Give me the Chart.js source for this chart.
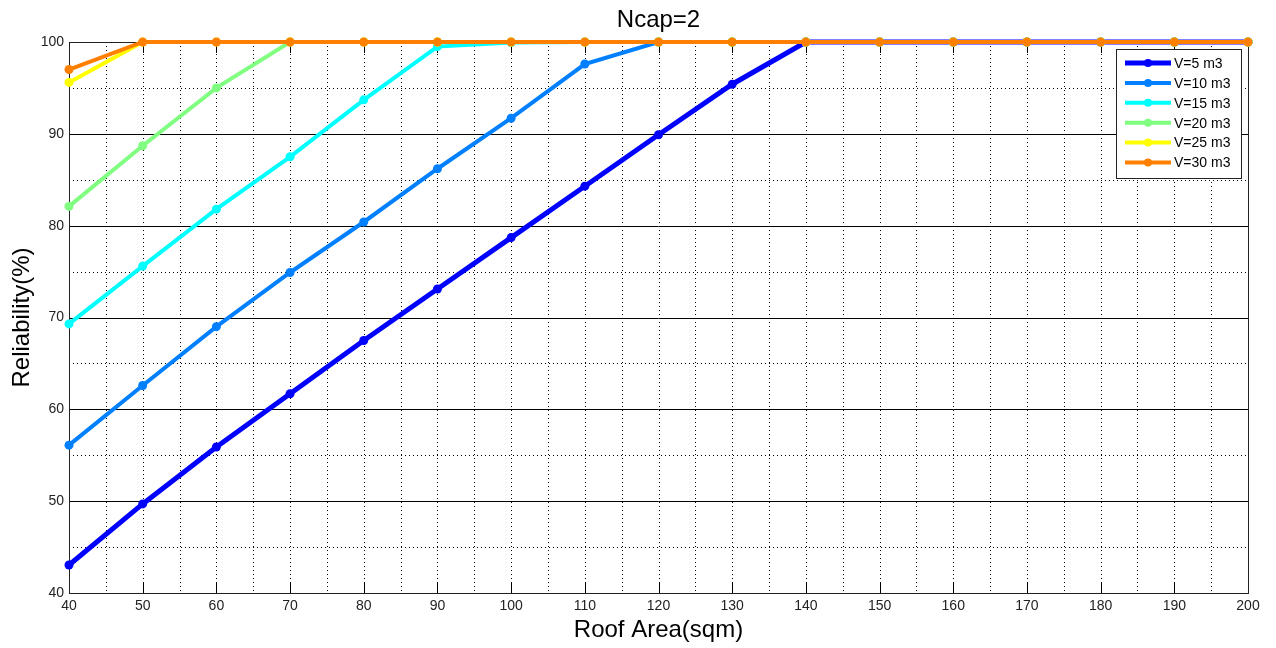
<!DOCTYPE html>
<html>
<head>
<meta charset="utf-8">
<script src="https://cdn.jsdelivr.net/npm/chart.js@4/dist/chart.umd.min.js"></script>
<style>
html,body{margin:0;padding:0;background:#fff;}
#wrap{width:1276px;height:648px;position:relative;}
</style>
</head>
<body>
<div id="wrap"><canvas id="c" width="1276" height="648"></canvas></div>
<script>
// ---- data ----
const roofArea = [40,50,60,70,80,90,100,110,120,130,140,150,160,170,180,190,200];
const seriesLabels = ['V=5 m3','V=10 m3','V=15 m3','V=20 m3','V=25 m3','V=30 m3'];
const v5  = [43.05,49.7,55.9,61.7,67.5,73.1,78.7,84.3,89.9,95.4,100,100,100,100,100,100,100];
const v10 = [56.1,62.6,69.0,74.9,80.4,86.2,91.7,97.6,100,100,100,100,100,100,100,100,100];
const v15 = [69.3,75.6,81.8,87.5,93.7,99.5,99.95,100,100,100,100,100,100,100,100,100,100];
const v20 = [82.1,88.7,95.0,100,100,100,100,100,100,100,100,100,100,100,100,100,100];
const v25 = [95.6,100,100,100,100,100,100,100,100,100,100,100,100,100,100,100,100];
const v30 = [97.0,100,100,100,100,100,100,100,100,100,100,100,100,100,100,100,100];
const xTicks = [40,50,60,70,80,90,100,110,120,130,140,150,160,170,180,190,200];
const yTicks = [40,50,60,70,80,90,100];
const titleText = 'Ncap=2';
const xTitle = 'Roof Area(sqm)';
const yTitle = 'Reliability(%)';

const colors = ['#0000ff','#0080ff','#00ffff','#80ff80','#ffff00','#ff8000'];
const widths = [5,4,4,4,4,4];
const seriesData = [v5,v10,v15,v20,v25,v30];

const FONT = '"Liberation Sans", Arial, Helvetica, sans-serif';

const datasets = seriesData.map((d,i)=>({
  label: seriesLabels[i],
  data: d.map((y,j)=>({x: roofArea[j], y: y})),
  borderColor: colors[i],
  backgroundColor: colors[i],
  borderWidth: widths[i],
  pointRadius: 4.5,
  pointHoverRadius: 4.5,
  pointBorderWidth: 0,
  pointStyle: 'circle',
  tension: 0,
  order: 5 - i,
  clip: 8
}));

const gridPlugin = {
  id: 'matlabGrid',
  beforeDatasetsDraw(chart){
    const {ctx, chartArea: a, scales:{x, y}} = chart;
    ctx.save();
    ctx.strokeStyle = '#000';
    ctx.lineWidth = 1;
    // dotted lines
    ctx.setLineDash([1,3]);
    for (let v = 45; v < 200; v += 5){
      const px = Math.round(x.getPixelForValue(v)) + 0.5;
      ctx.beginPath(); ctx.moveTo(px, a.top); ctx.lineTo(px, a.bottom); ctx.stroke();
    }
    for (let v = 45; v < 100; v += 10){
      const py = Math.round(y.getPixelForValue(v)) + 0.5;
      ctx.beginPath(); ctx.moveTo(a.left, py); ctx.lineTo(a.right, py); ctx.stroke();
    }
    ctx.setLineDash([]);
    // solid major horizontal lines
    for (let v = 50; v < 100; v += 10){
      const py = Math.round(y.getPixelForValue(v)) + 0.5;
      ctx.beginPath(); ctx.moveTo(a.left, py); ctx.lineTo(a.right, py); ctx.stroke();
    }
    // tick marks on x axis (bottom and top)
    for (const v of xTicks){
      const px = Math.round(x.getPixelForValue(v)) + 0.5;
      ctx.beginPath(); ctx.moveTo(px, a.bottom); ctx.lineTo(px, a.bottom - 11); ctx.stroke();
      ctx.beginPath(); ctx.moveTo(px, a.top); ctx.lineTo(px, a.top + 11); ctx.stroke();
    }
    // box
    ctx.strokeStyle = '#222';
    ctx.strokeRect(Math.round(a.left)+0.5, Math.round(a.top)+0.5, Math.round(a.right-a.left), Math.round(a.bottom-a.top));
    ctx.restore();
  },
  afterDraw(chart){
    const {ctx, chartArea: a} = chart;
    ctx.save();
    // title
    ctx.fillStyle = '#000';
    ctx.font = '24px ' + FONT;
    ctx.textAlign = 'center';
    ctx.textBaseline = 'middle';
    ctx.fillText(titleText, (a.left + a.right)/2, 20);
    // legend
    const bx = 1116, by = 49, bw = 125, bh = 129;
    ctx.fillStyle = '#fff';
    ctx.fillRect(bx, by, bw, bh);
    ctx.strokeStyle = '#222';
    ctx.lineWidth = 1;
    ctx.strokeRect(bx+0.5, by+0.5, bw, bh);
    ctx.font = '14px ' + FONT;
    ctx.textAlign = 'left';
    ctx.textBaseline = 'middle';
    chart.data.datasets.forEach((ds, i)=>{
      const yy = 63 + i*19.9;
      ctx.strokeStyle = ds.borderColor;
      ctx.lineWidth = ds.borderWidth;
      ctx.beginPath(); ctx.moveTo(1125, yy); ctx.lineTo(1171, yy); ctx.stroke();
      ctx.fillStyle = ds.borderColor;
      ctx.beginPath(); ctx.arc(1148, yy, 4, 0, Math.PI*2); ctx.fill();
      ctx.fillStyle = '#000';
      ctx.fillText(ds.label, 1174, yy + 1);
    });
    ctx.restore();
  }
};

new Chart(document.getElementById('c'), {
  type: 'line',
  data: { datasets },
  options: {
    responsive: false,
    animation: false,
    events: [],
    layout: { padding: { left: 0, right: 28, top: 42, bottom: 0 } },
    plugins: { legend: { display: false }, title: { display: false }, tooltip: { enabled: false } },
    scales: {
      x: {
        type: 'linear',
        min: 40, max: 200,
        afterFit(s){ s.height = 55; },
        afterBuildTicks(s){ s.ticks = xTicks.map(v=>({value:v})); },
        grid: { display: false, drawTicks: false },
        border: { display: false },
        ticks: { color: '#222', padding: 5, maxRotation: 0, autoSkip: false, font: { size: 14, family: FONT } },
        title: { display: true, text: xTitle, color: '#000', font: { size: 24, family: FONT }, padding: { top: 0, bottom: 3 } }
      },
      y: {
        type: 'linear',
        min: 40, max: 100,
        afterFit(s){ s.width = 69; },
        afterBuildTicks(s){ s.ticks = yTicks.map(v=>({value:v})); },
        grid: { display: false, drawTicks: false },
        border: { display: false },
        ticks: { color: '#222', padding: 5, font: { size: 14, family: FONT } },
        title: { display: true, text: yTitle, color: '#000', font: { size: 24, family: FONT }, padding: { top: 8, bottom: 0 } }
      }
    }
  },
  plugins: [gridPlugin]
});
</script>
</body>
</html>
